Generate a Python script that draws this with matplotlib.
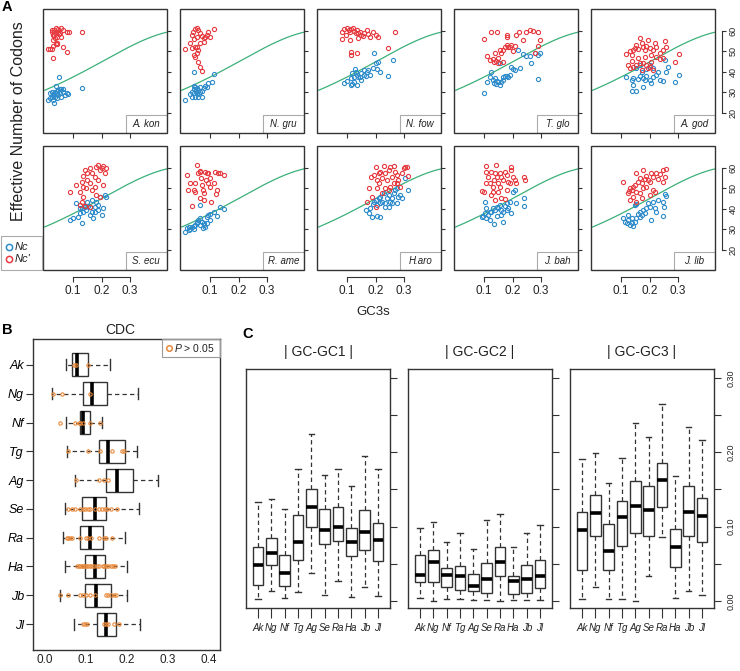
import numpy as np
import matplotlib
matplotlib.use('Agg')
import matplotlib.pyplot as plt
from matplotlib.patches import Rectangle

plt.rcParams['font.family'] = ['Liberation Sans', 'DejaVu Sans']
plt.rcParams['mathtext.fontset'] = 'custom'
plt.rcParams['mathtext.it'] = 'Liberation Sans:italic'
plt.rcParams['mathtext.rm'] = 'Liberation Sans'

# ---- Panel A data: (GC3s, Nc) pairs per species ----
species = ['A. kon', 'N. gru', 'N. fow', 'T. glo', 'A. god',
           'S. ecu', 'R. ame', 'H.aro', 'J. bah', 'J. lib']

kon_nc = [(0.013,26.3),(0.018,27.1),(0.024,27.9),(0.030,28.7),(0.036,27.9),(0.042,29.5),(0.048,31.0),
          (0.053,31.5),(0.059,31.5),(0.065,30.3),(0.071,28.7),(0.083,29.0),(0.130,32.0),(0.051,37.7),
          (0.040,33.1),(0.030,26.3),(0.033,24.6),(0.018,29.5),(0.024,30.3),(0.042,27.1),(0.048,28.7),
          (0.059,27.9),(0.065,31.5),(0.077,29.8),(0.036,30.0),(0.045,30.5),(0.028,29.0),(0.055,29.5)]
kon_ncp = [(0.013,51.0),(0.018,51.0),(0.024,51.0),(0.028,52.5),(0.030,55.5),(0.033,58.0),(0.036,56.7),
           (0.030,46.6),(0.036,58.8),(0.034,60.4),(0.040,61.2),(0.046,61.0),(0.048,59.5),(0.053,58.8),
           (0.059,61.2),(0.065,60.4),(0.077,59.6),(0.086,59.6),(0.130,59.6),(0.065,52.3),(0.077,49.9),
           (0.042,54.0),(0.044,57.2),(0.050,58.5),(0.024,59.6),(0.030,58.0),(0.059,57.2),(0.038,53.5),
           (0.045,53.5),(0.026,60.5)]

gru_nc = [(0.013,26.3),(0.030,29.0),(0.036,30.3),(0.042,31.5),(0.048,32.5),(0.053,32.0),(0.059,31.2),
          (0.065,30.3),(0.071,27.9),(0.059,27.9),(0.048,27.9),(0.042,40.1),(0.083,33.1),(0.094,34.4),
          (0.106,35.2),(0.112,38.9),(0.065,32.8),(0.053,29.5),(0.077,32.0),(0.089,32.8),(0.042,29.5),
          (0.036,27.9),(0.050,30.5),(0.060,29.0),(0.045,33.0),(0.070,30.8)]
gru_ncp = [(0.013,51.0),(0.030,53.9),(0.036,58.0),(0.039,59.6),(0.048,60.7),(0.053,61.2),(0.059,60.4),
           (0.065,58.8),(0.071,57.5),(0.077,56.4),(0.083,57.2),(0.089,58.0),(0.094,59.6),(0.112,60.7),
           (0.100,56.8),(0.042,48.2),(0.048,47.4),(0.053,49.0),(0.059,44.9),(0.065,42.5),(0.071,40.6),
           (0.036,51.5),(0.053,52.3),(0.065,54.2),(0.077,54.7),(0.042,55.9),(0.053,57.2),(0.048,52.3),
           (0.059,50.7)]

fow_nc = [(0.088,34.7),(0.100,35.5),(0.112,36.8),(0.112,33.6),(0.118,39.3),(0.123,37.7),(0.125,35.2),
          (0.130,40.1),(0.135,38.5),(0.135,33.6),(0.140,37.5),(0.147,37.7),(0.150,39.5),(0.158,38.5),
          (0.165,38.0),(0.170,40.1),(0.175,41.0),(0.182,38.5),(0.190,42.0),(0.194,49.0),(0.200,44.5),
          (0.205,41.5),(0.210,45.0),(0.215,40.0),(0.263,45.8),(0.245,38.0),(0.128,41.5),(0.150,36.0),
          (0.118,34.0),(0.160,41.0)]
fow_ncp = [(0.083,59.5),(0.090,61.0),(0.100,61.2),(0.105,60.4),(0.110,59.5),(0.115,60.7),(0.120,61.2),
           (0.125,60.0),(0.130,59.0),(0.135,60.4),(0.140,58.8),(0.145,59.5),(0.150,58.0),(0.155,57.5),
           (0.160,59.0),(0.170,60.4),(0.175,58.5),(0.182,57.2),(0.190,59.6),(0.200,58.0),(0.210,56.8),
           (0.270,59.6),(0.245,51.5),(0.112,49.9),(0.112,48.2),(0.136,49.4),(0.083,55.9),(0.110,55.6),
           (0.140,56.5),(0.095,58.2)]

glo_nc = [(0.100,29.8),(0.111,35.2),(0.120,37.7),(0.126,40.1),(0.130,36.0),(0.134,34.7),(0.141,34.1),
          (0.149,35.2),(0.155,33.6),(0.161,35.2),(0.167,37.3),(0.173,38.0),(0.179,38.0),(0.184,37.7),
          (0.190,38.5),(0.196,42.5),(0.200,41.2),(0.208,40.9),(0.219,50.7),(0.225,41.7),(0.237,48.7),
          (0.249,47.7),(0.260,47.7),(0.266,44.2),(0.278,49.4),(0.290,48.2),(0.298,49.0),(0.290,36.4),
          (0.155,44.2),(0.167,36.0),(0.138,36.8),(0.144,35.7)]
glo_ncp = [(0.100,55.9),(0.126,59.3),(0.144,59.6),(0.111,47.7),(0.120,45.8),(0.130,46.1),(0.134,45.0),
           (0.141,45.5),(0.149,46.6),(0.158,49.0),(0.165,50.7),(0.173,52.3),(0.179,53.1),(0.184,52.3),
           (0.190,52.0),(0.196,53.1),(0.208,52.6),(0.179,57.2),(0.181,58.0),(0.214,58.0),(0.223,59.6),
           (0.237,55.5),(0.249,59.6),(0.260,60.4),(0.272,60.1),(0.290,59.3),(0.296,55.5),(0.290,52.6),
           (0.278,49.0),(0.167,45.0),(0.149,44.2),(0.138,49.0),(0.155,50.7),(0.202,50.3)]

god_nc = [(0.117,37.7),(0.137,36.0),(0.142,33.6),(0.137,30.8),(0.154,30.8),(0.160,36.4),(0.166,38.0),
          (0.172,40.1),(0.177,32.5),(0.183,36.0),(0.189,38.0),(0.201,36.0),(0.207,34.4),(0.213,37.3),
          (0.224,38.5),(0.230,40.1),(0.236,36.0),(0.248,35.7),(0.259,40.1),(0.265,42.5),(0.253,45.8),
          (0.289,35.2),(0.304,38.5),(0.154,41.7),(0.166,43.3),(0.189,41.2),(0.201,43.3),(0.213,41.7),
          (0.142,36.8),(0.177,36.8)]
god_ncp = [(0.117,48.7),(0.131,50.3),(0.137,48.2),(0.142,50.7),(0.148,51.5),(0.154,53.1),(0.160,51.0),
           (0.166,56.4),(0.172,53.9),(0.177,52.3),(0.183,50.7),(0.189,52.6),(0.195,55.5),(0.201,51.5),
           (0.207,48.2),(0.213,50.7),(0.218,53.9),(0.224,52.3),(0.236,49.0),(0.248,50.7),(0.253,55.2),
           (0.259,52.3),(0.289,45.0),(0.304,48.7),(0.131,41.7),(0.142,42.5),(0.154,43.3),(0.166,44.2),
           (0.177,44.5),(0.189,43.3),(0.201,42.5),(0.213,40.9),(0.224,47.1),(0.236,46.1),(0.248,46.6),
           (0.172,40.9),(0.160,46.6),(0.137,45.5),(0.183,47.1),(0.207,45.0),(0.125,43.3),(0.195,41.7)]

ecu_nc = [(0.089,34.4),(0.098,35.2),(0.110,42.9),(0.118,36.0),(0.124,38.0),(0.130,33.1),(0.133,40.1),
          (0.141,40.9),(0.147,39.3),(0.153,41.2),(0.159,40.9),(0.165,38.5),(0.168,44.2),(0.170,35.2),
          (0.176,40.9),(0.182,43.3),(0.188,39.3),(0.194,45.8),(0.200,36.8),(0.206,40.1),(0.211,46.6),
          (0.217,45.8),(0.149,43.3),(0.135,38.5),(0.176,38.5),(0.188,41.7),(0.159,36.8),(0.124,40.1)]
ecu_ncp = [(0.089,48.2),(0.110,51.5),(0.124,48.2),(0.130,53.1),(0.135,55.9),(0.141,58.8),(0.149,57.5),
           (0.159,59.6),(0.168,57.2),(0.176,55.5),(0.182,60.4),(0.188,61.2),(0.194,58.8),(0.200,59.6),
           (0.206,60.7),(0.215,59.6),(0.211,57.2),(0.206,51.5),(0.188,53.9),(0.176,50.7),(0.165,49.0),
           (0.147,49.9),(0.135,50.7),(0.149,53.9),(0.159,52.6),(0.124,41.7),(0.130,43.3),(0.141,41.2),
           (0.159,40.9),(0.182,46.6),(0.194,45.8),(0.135,45.8)]

ame_nc = [(0.013,28.7),(0.018,30.3),(0.024,30.8),(0.030,29.8),(0.036,30.8),(0.042,31.5),(0.048,32.0),
          (0.053,32.8),(0.059,34.4),(0.065,35.2),(0.071,33.6),(0.077,32.0),(0.083,30.8),(0.075,30.3),
          (0.065,32.0),(0.089,36.0),(0.094,36.8),(0.100,37.3),(0.112,38.5),(0.124,36.4),(0.135,40.9),
          (0.149,39.6),(0.065,41.7),(0.079,32.8),(0.053,33.6),(0.089,33.1),(0.098,34.4),(0.042,29.8),
          (0.024,29.5)]
ame_ncp = [(0.018,56.4),(0.021,49.0),(0.028,52.6),(0.036,41.2),(0.042,49.0),(0.048,48.2),(0.053,61.2),
           (0.059,57.2),(0.063,58.5),(0.065,58.0),(0.069,54.7),(0.071,51.5),(0.075,49.0),(0.077,47.4),
           (0.079,44.2),(0.083,58.0),(0.086,53.9),(0.089,57.5),(0.091,52.3),(0.094,57.2),(0.098,50.7),
           (0.100,54.7),(0.104,43.3),(0.112,52.6),(0.118,58.0),(0.124,49.0),(0.129,57.2),(0.135,57.5),
           (0.149,56.4),(0.121,47.1),(0.048,52.3),(0.065,45.0)]

aro_nc = [(0.182,40.1),(0.188,36.0),(0.194,43.3),(0.200,44.2),(0.205,41.7),(0.211,45.0),(0.217,45.8),
          (0.223,43.3),(0.229,47.4),(0.235,42.5),(0.241,45.0),(0.246,46.6),(0.252,43.3),(0.258,45.0),
          (0.264,47.4),(0.270,49.0),(0.276,49.9),(0.281,45.8),(0.287,46.6),(0.293,45.0),(0.305,54.7),
          (0.316,49.0),(0.205,36.4),(0.235,40.9),(0.258,42.5),(0.276,42.5),(0.217,42.5),(0.246,40.9),
          (0.176,38.0),(0.190,42.0),(0.165,39.5),(0.217,36.0)]
aro_ncp = [(0.194,56.4),(0.200,60.4),(0.205,53.9),(0.211,52.3),(0.217,58.0),(0.223,54.7),(0.229,60.7),
           (0.235,57.2),(0.241,53.9),(0.246,58.8),(0.252,60.4),(0.258,55.5),(0.264,60.7),(0.270,58.0),
           (0.276,56.4),(0.281,53.9),(0.287,50.7),(0.293,57.2),(0.299,59.6),(0.305,60.4),(0.316,55.9),
           (0.311,60.4),(0.235,49.9),(0.223,47.4),(0.246,49.0),(0.264,52.3),(0.205,49.9),(0.211,57.2),
           (0.252,50.7),(0.276,52.3),(0.200,40.9),(0.188,45.8),(0.170,43.3),(0.185,55.5),(0.178,50.0)]

bah_nc = [(0.091,35.7),(0.097,36.4),(0.103,38.0),(0.108,35.2),(0.114,36.8),(0.120,34.4),(0.126,38.5),
          (0.132,40.1),(0.134,32.5),(0.138,39.3),(0.144,40.9),(0.149,40.1),(0.155,41.7),(0.161,39.3),
          (0.167,33.6),(0.173,41.2),(0.179,42.5),(0.184,40.1),(0.190,43.3),(0.196,37.7),(0.202,48.2),
          (0.208,49.0),(0.214,42.9),(0.239,45.0),(0.239,41.2),(0.120,38.5),(0.144,36.4),(0.161,36.8),
          (0.179,39.3),(0.108,40.1),(0.103,43.3),(0.167,38.5)]
bah_ncp = [(0.091,48.7),(0.099,48.2),(0.106,60.7),(0.108,52.3),(0.114,55.5),(0.120,52.3),(0.126,58.0),
           (0.130,50.7),(0.134,53.9),(0.138,57.2),(0.141,61.2),(0.144,55.5),(0.149,52.3),(0.155,57.5),
           (0.161,55.5),(0.167,53.9),(0.173,58.0),(0.179,56.4),(0.184,53.1),(0.190,52.3),(0.196,60.4),
           (0.202,55.5),(0.208,53.9),(0.214,52.3),(0.239,55.2),(0.243,53.9),(0.126,46.6),(0.138,44.2),
           (0.161,45.0),(0.173,44.5),(0.149,48.2),(0.155,50.7),(0.132,48.2),(0.196,58.8),(0.108,58.0),
           (0.179,49.0)]

lib_nc = [(0.107,35.2),(0.113,33.6),(0.119,32.8),(0.125,34.4),(0.131,32.0),(0.137,33.1),(0.142,31.5),
          (0.148,33.6),(0.154,35.2),(0.160,37.3),(0.166,38.5),(0.172,36.8),(0.177,39.3),(0.183,38.0),
          (0.189,40.1),(0.195,42.5),(0.201,40.9),(0.207,34.4),(0.213,43.3),(0.218,40.1),(0.224,38.5),
          (0.230,44.2),(0.248,43.3),(0.250,40.9),(0.248,36.4),(0.253,47.1),(0.259,46.1),(0.148,41.7),
          (0.154,42.2),(0.166,35.7),(0.137,35.2),(0.125,36.8)]
lib_ncp = [(0.107,53.1),(0.125,47.7),(0.128,48.7),(0.131,49.9),(0.137,49.0),(0.142,50.7),(0.148,51.5),
           (0.154,57.5),(0.160,53.1),(0.166,54.7),(0.172,52.3),(0.177,58.8),(0.183,54.2),(0.189,55.9),
           (0.195,53.9),(0.201,53.1),(0.207,57.2),(0.213,55.5),(0.224,57.5),(0.230,54.2),(0.236,56.8),
           (0.248,58.8),(0.259,59.1),(0.253,55.5),(0.248,53.1),(0.213,49.0),(0.201,46.6),(0.218,48.2),
           (0.189,50.7),(0.131,44.2),(0.142,45.8),(0.154,43.3),(0.166,47.4),(0.172,45.0),(0.177,49.9),
           (0.154,48.2)]

nc_sets = [kon_nc, gru_nc, fow_nc, glo_nc, god_nc, ecu_nc, ame_nc, aro_nc, bah_nc, lib_nc]
ncp_sets = [kon_ncp, gru_ncp, fow_ncp, glo_ncp, god_ncp, ecu_ncp, ame_ncp, aro_ncp, bah_ncp, lib_ncp]

# ---- Panel B data: CDC boxplot stats and P > 0.05 genes ----
abbr = ['Ak', 'Ng', 'Nf', 'Tg', 'Ag', 'Se', 'Ra', 'Ha', 'Jb', 'Jl']
cdc_whislo = [0.051, 0.017, 0.051, 0.053, 0.074, 0.049, 0.045, 0.049, 0.037, 0.071]
cdc_q1     = [0.065, 0.094, 0.086, 0.131, 0.150, 0.090, 0.086, 0.097, 0.098, 0.127]
cdc_med    = [0.079, 0.115, 0.094, 0.155, 0.175, 0.123, 0.110, 0.121, 0.125, 0.150]
cdc_q3     = [0.106, 0.151, 0.110, 0.196, 0.215, 0.150, 0.142, 0.146, 0.160, 0.173]
cdc_whishi = [0.158, 0.227, 0.139, 0.225, 0.275, 0.229, 0.196, 0.200, 0.200, 0.233]
cdc_ns = [
    [0.071, 0.076, 0.104],
    [0.019, 0.041, 0.109],
    [0.037, 0.074, 0.082, 0.086, 0.092, 0.109, 0.135],
    [0.056, 0.104, 0.135, 0.164, 0.188, 0.194],
    [0.076, 0.131, 0.143, 0.153],
    [0.057, 0.065, 0.074, 0.086, 0.092, 0.098, 0.104, 0.110, 0.123, 0.131, 0.139, 0.147, 0.151, 0.160, 0.176],
    [0.053, 0.057, 0.061, 0.065, 0.086, 0.101, 0.106, 0.112, 0.131, 0.143, 0.150, 0.164],
    [0.078, 0.082, 0.086, 0.090, 0.094, 0.098, 0.101, 0.104, 0.109, 0.115, 0.120, 0.127, 0.131, 0.142,
     0.145, 0.150, 0.153, 0.160, 0.166, 0.172],
    [0.037, 0.057, 0.086, 0.094, 0.101, 0.109, 0.123, 0.150, 0.153, 0.160, 0.168, 0.174],
    [0.092, 0.098, 0.102, 0.143, 0.150, 0.153, 0.168, 0.180],
]

# ---- Panel C data: |GC - GCi| boxplot stats ----
c_titles = ['| GC-GC1 |', '| GC-GC2 |', '| GC-GC3 |']
gc1_stats = [  # whislo, q1, med, q3, whishi
    (0.003, 0.022, 0.048, 0.073, 0.133), (0.014, 0.049, 0.065, 0.085, 0.137),
    (0.004, 0.020, 0.038, 0.062, 0.124), (0.012, 0.055, 0.079, 0.115, 0.178),
    (0.038, 0.100, 0.126, 0.151, 0.224), (0.008, 0.077, 0.095, 0.124, 0.170),
    (0.027, 0.080, 0.100, 0.127, 0.178), (0.005, 0.060, 0.079, 0.098, 0.155),
    (0.019, 0.069, 0.093, 0.122, 0.195), (0.006, 0.054, 0.082, 0.105, 0.177)]
gc2_stats = [
    (0.004, 0.025, 0.035, 0.062, 0.098), (0.000, 0.026, 0.053, 0.069, 0.106),
    (0.002, 0.019, 0.035, 0.044, 0.079), (0.002, 0.015, 0.034, 0.047, 0.092),
    (0.001, 0.013, 0.020, 0.036, 0.070), (0.001, 0.011, 0.029, 0.051, 0.109),
    (0.000, 0.033, 0.053, 0.073, 0.117), (0.001, 0.009, 0.027, 0.034, 0.073),
    (0.001, 0.011, 0.029, 0.048, 0.091), (0.001, 0.017, 0.033, 0.055, 0.102)]
gc3_stats = [
    (0.002, 0.041, 0.095, 0.120, 0.191), (0.019, 0.087, 0.118, 0.142, 0.199),
    (0.002, 0.042, 0.067, 0.104, 0.159), (0.002, 0.074, 0.113, 0.135, 0.192),
    (0.000, 0.092, 0.128, 0.161, 0.239), (0.034, 0.087, 0.122, 0.155, 0.220),
    (0.086, 0.127, 0.163, 0.186, 0.265), (0.004, 0.046, 0.073, 0.097, 0.168),
    (0.014, 0.087, 0.120, 0.155, 0.234), (0.008, 0.079, 0.114, 0.139, 0.217)]

# ---- Colours ----
blue = '#2f8ccb'
red = '#e63b40'
green = '#3bb07a'
orange = '#e8893b'
dark = '#333333'

W, H = 740, 671
fig = plt.figure(figsize=(W / 100, H / 100), dpi=100)


def rect(x, y, w, h):
    return [x / W, 1 - (y + h) / H, w / W, h / H]


def ftext(x, y, s, **kw):
    fig.text(x / W, 1 - y / H, s, **kw)


# ---- Panel A ----
s = np.linspace(0, 0.45, 200)
expected = 2 + s + 29 / (s**2 + (1 - s)**2)

for i, name in enumerate(species):
    r, c = divmod(i, 5)
    ax = fig.add_axes(rect(43.3 + c * 137, 9.3 + r * 136.7, 123.5, 124))
    for sp in ax.spines.values():
        sp.set_visible(False)
    ax.add_patch(Rectangle((0, 0), 1, 1, transform=ax.transAxes, fill=False,
                           ec=dark, lw=1.0, clip_on=False, zorder=5))
    ax.plot(s, expected, color=green, lw=0.9, zorder=2)
    nc = np.array(nc_sets[i])
    ncp = np.array(ncp_sets[i])
    ax.plot(nc[:, 0], nc[:, 1], 'o', mfc='none', mec=blue, ms=3.0, mew=0.8, zorder=3)
    ax.plot(ncp[:, 0], ncp[:, 1], 'o', mfc='none', mec=red, ms=3.0, mew=0.8, zorder=3)
    ax.set_xlim(-0.005, 0.43)
    ax.set_ylim(10, 70.5)

    # species strip, bottom right
    ax.add_patch(Rectangle((0.668, 0), 0.332, 0.145, transform=ax.transAxes,
                           fc='white', ec='#aaaaaa', lw=0.8, zorder=4))
    ax.text(0.834, 0.0725, name, transform=ax.transAxes, ha='center', va='center',
            fontsize=7, style='italic', color='#222222', zorder=6)

    ax.yaxis.set_ticks_position('right')
    ax.set_yticks([20, 30, 40, 50, 60])
    ax.tick_params(axis='y', direction='out', length=3, width=0.8, color=dark,
                   labelright=(c == 4), labelsize=6.5, pad=1.5, labelcolor='#222222')
    ax.set_xticks([0.1, 0.2, 0.3], ['0.1', '0.2', '0.3'])
    ax.tick_params(axis='x', direction='out', length=3.5, width=0.8, color=dark,
                   labelbottom=(r == 1), labelsize=8.5, pad=2.5, labelcolor='#222222')
    if c == 4:
        ax.spines['right'].set_visible(True)
        ax.spines['right'].set_position(('outward', 5.5))
        ax.spines['right'].set_bounds(20, 60)
        ax.spines['right'].set_linewidth(0.8)
        ax.spines['right'].set_color(dark)
        for lbl in ax.get_yticklabels():
            lbl.set_rotation(90)
            lbl.set_va('center')
    if r == 1:
        ax.spines['bottom'].set_visible(True)
        ax.spines['bottom'].set_position(('outward', 5))
        ax.spines['bottom'].set_bounds(0.1, 0.3)
        ax.spines['bottom'].set_linewidth(0.8)
        ax.spines['bottom'].set_color(dark)

# legend for Nc / Nc'
lax = fig.add_axes(rect(1, 236, 41, 34))
lax.set_xlim(0, 41)
lax.set_ylim(34, 0)
lax.axis('off')
lax.add_patch(Rectangle((0, 0), 1, 1, transform=lax.transAxes, fill=False,
                        ec='#aaaaaa', lw=0.8, clip_on=False))
lax.plot([7.5], [11], 'o', mfc='none', mec=blue, ms=4.5, mew=1.1)
lax.plot([7.5], [23], 'o', mfc='none', mec=red, ms=4.5, mew=1.1)
lax.text(13.5, 11, 'Nc', style='italic', fontsize=8, va='center', color='#222222')
lax.text(13.5, 23, "Nc'", style='italic', fontsize=8, va='center', color='#222222')

ftext(19, 121.5, 'Effective Number of Codons', rotation=90, ha='center', va='center',
      fontsize=11.5, color='#222222')
ftext(373, 312, 'GC3s', ha='center', va='center', fontsize=9.5, color='#222222')
ftext(2, 7, 'A', fontsize=10.5, fontweight='bold', va='center')

# ---- Panel B ----
axb = fig.add_axes(rect(33, 339, 187, 311))
cdc_stats = [dict(med=m, q1=a, q3=b, whislo=lo, whishi=hi, fliers=[])
             for lo, a, m, b, hi in zip(cdc_whislo, cdc_q1, cdc_med, cdc_q3, cdc_whishi)]
pos = np.arange(1, 11)
box_kw = dict(widths=0.8, capwidths=0.38, patch_artist=True, showfliers=False,
              boxprops=dict(facecolor='white', edgecolor=dark, linewidth=1.0),
              whiskerprops=dict(color=dark, linewidth=0.9, linestyle=(0, (3.5, 2.5))),
              capprops=dict(color=dark, linewidth=1.0),
              medianprops=dict(color='black', linewidth=2.6, solid_capstyle='butt'))
axb.bxp(cdc_stats, positions=pos, orientation='horizontal', **box_kw)
for k, vals in enumerate(cdc_ns):
    axb.plot(vals, [k + 1] * len(vals), 'o', mfc='none', mec=orange, ms=2.4, mew=0.8, zorder=5)
axb.set_xlim(-0.029, 0.427)
axb.set_ylim(10.9, 0.1)
axb.set_yticks(pos, abbr)
for lbl in axb.get_yticklabels():
    lbl.set_style('italic')
axb.tick_params(axis='y', direction='out', length=5, width=0.8, color=dark,
                labelsize=9, pad=1.5)
axb.set_xticks([0.0, 0.1, 0.2, 0.3, 0.4], ['0.0', '0.1', '0.2', '0.3', '0.4'])
axb.tick_params(axis='x', length=0, labelsize=8.5, pad=3, labelcolor='#222222')
for sp in axb.spines.values():
    sp.set_linewidth(1.0)
    sp.set_color(dark)

# P > 0.05 legend
pax = fig.add_axes(rect(162, 339, 58, 18))
pax.set_xlim(0, 58)
pax.set_ylim(18, 0)
pax.axis('off')
pax.add_patch(Rectangle((0, 0), 1, 1, transform=pax.transAxes, fill=False,
                        ec='#999999', lw=0.8, clip_on=False))
pax.plot([6.5], [9], 'o', mfc='none', mec=orange, ms=4, mew=1.1)
pax.text(11.5, 9, '$P$ > 0.05', fontsize=7.5, va='center', color='#222222')

ftext(120, 330, 'CDC', ha='center', va='center', fontsize=10, color='#222222')
ftext(2, 330, 'B', fontsize=10.5, fontweight='bold', va='center')

# ---- Panel C ----
for k, stats in enumerate([gc1_stats, gc2_stats, gc3_stats]):
    axc = fig.add_axes(rect(246 + k * 162, 369, 144, 239))
    bstats = [dict(med=m, q1=a, q3=b, whislo=lo, whishi=hi, fliers=[])
              for lo, a, m, b, hi in stats]
    axc.bxp(bstats, positions=pos, **box_kw)
    axc.set_xlim(0.1, 10.9)
    axc.set_ylim(-0.0095, 0.312)
    axc.set_xticks(pos, abbr)
    for lbl in axc.get_xticklabels():
        lbl.set_style('italic')
    axc.tick_params(axis='x', direction='out', length=7, width=0.8, color=dark,
                    labelsize=7, pad=3.5, labelcolor='#222222')
    axc.yaxis.set_ticks_position('right')
    yt = [0.0, 0.05, 0.10, 0.15, 0.20, 0.25, 0.30]
    axc.set_yticks(yt, ['0.00', '', '0.10', '', '0.20', '', '0.30'])
    axc.tick_params(axis='y', direction='out', length=5, width=0.8, color=dark,
                    labelright=(k == 2), labelsize=6.5, pad=4, labelcolor='#222222')
    if k == 2:
        for lbl in axc.get_yticklabels():
            lbl.set_rotation(90)
            lbl.set_va('center')
    for sp in axc.spines.values():
        sp.set_linewidth(1.0)
        sp.set_color(dark)
    ftext(318 + k * 162, 352, c_titles[k], ha='center', va='center', fontsize=10,
          color='#222222')

ftext(242, 334, 'C', fontsize=10.5, fontweight='bold', va='center')

plt.savefig('out.png', dpi=100)
